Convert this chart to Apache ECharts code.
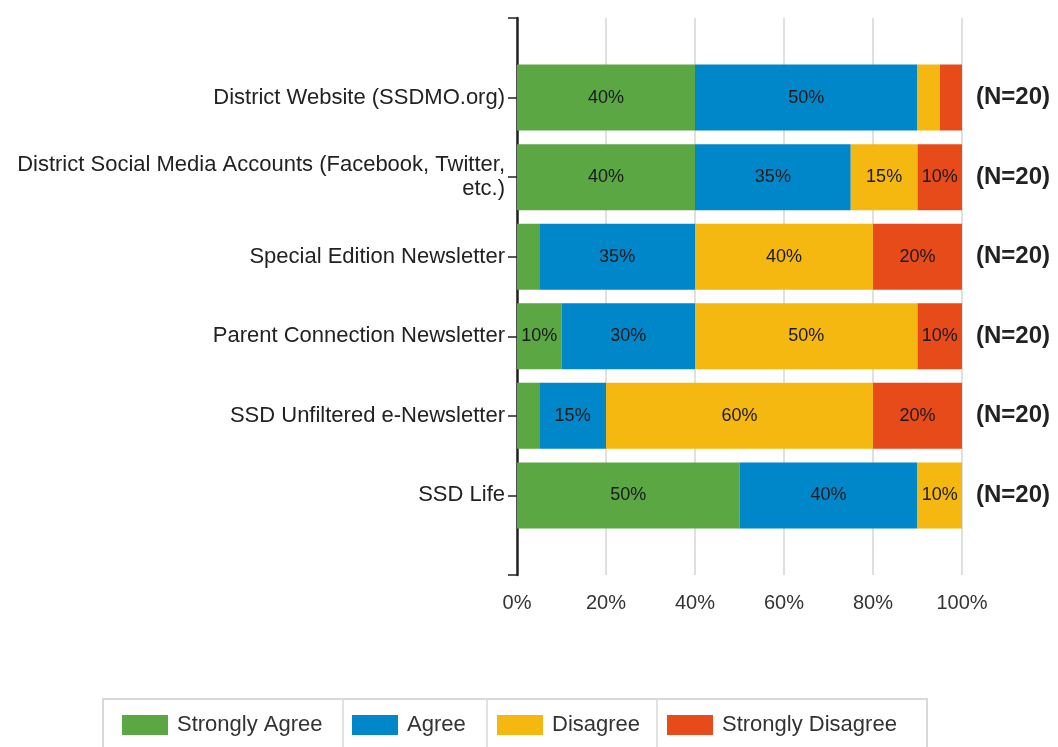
<!DOCTYPE html>
<html>
<head>
<meta charset="utf-8">
<script src="https://cdn.jsdelivr.net/npm/echarts@6/dist/echarts.min.js"></script>
<style>
  html, body { margin: 0; padding: 0; background: #fff; }
  #chart { width: 1058px; height: 747px; }
</style>
</head>
<body>
<div id="chart"></div>
<script>
// channels, top to bottom
var categories = [
    "District Website (SSDMO.org)",
    "District Social Media Accounts (Facebook, Twitter,\netc.)",
    "Special Edition Newsletter",
    "Parent Connection Newsletter",
    "SSD Unfiltered e-Newsletter",
    "SSD Life"
];
var nLabels = ["(N=20)", "(N=20)", "(N=20)", "(N=20)", "(N=20)", "(N=20)"];

var stronglyAgree = [40, 40, 5, 10, 5, 50];
var agree = [50, 35, 35, 30, 15, 40];
var disagree = [5, 15, 40, 50, 60, 10];
var stronglyDisagree = [5, 10, 20, 10, 20, 0];

var seriesNames = ["Strongly Agree", "Agree", "Disagree", "Strongly Disagree"];
var seriesColors = ["#5aa744", "#0087c9", "#f4b810", "#e84b1a"];
var xTicks = [0, 20, 40, 60, 80, 100];

// pad an empty slot above and below, the axis runs past the bars
function padded(arr) {
    return [null].concat(arr, [null]);
}

var chart = echarts.init(document.getElementById("chart"));

var allValues = [stronglyAgree, agree, disagree, stronglyDisagree];
var series = [];
for (var i = 0; i < allValues.length; i++) {
    series.push({
        name: seriesNames[i],
        type: "bar",
        stack: "total",
        barWidth: 66,
        itemStyle: { color: seriesColors[i] },
        label: {
            show: true,
            position: "inside",
            color: "#1a1a1a",
            fontSize: 18,
            fontFamily: "Liberation Sans",
            formatter: function (p) {
                return p.value >= 10 ? p.value + "%" : "";
            }
        },
        data: padded(allValues[i])
    });
}

// one legend per item so each sits in its own box
var legendLefts = [122, 352, 497, 667];
var legends = [];
for (var j = 0; j < seriesNames.length; j++) {
    legends.push({
        data: [seriesNames[j]],
        left: legendLefts[j],
        top: 714,
        padding: 0,
        itemWidth: 46,
        itemHeight: 20,
        icon: "rect",
        selectedMode: false,
        textStyle: {
            fontSize: 22,
            fontFamily: "Liberation Sans",
            color: "#333",
            padding: [0, 0, 0, 4]
        }
    });
}

chart.setOption({
    animation: false,
    grid: { left: 517, right: 96, top: 18, bottom: 172 },
    legend: legends,
    xAxis: {
        type: "value",
        min: 0,
        max: 100,
        interval: 20,
        axisLine: { show: false },
        axisTick: { show: false },
        splitLine: { lineStyle: { color: "#d6d6d6", width: 1.5 } },
        axisLabel: {
            margin: 18,
            fontSize: 20,
            fontFamily: "Liberation Sans",
            color: "#333",
            formatter: function (v) {
                return xTicks.indexOf(v) >= 0 ? v + "%" : "";
            }
        }
    },
    yAxis: [{
        type: "category",
        inverse: true,
        boundaryGap: false,
        data: padded(categories).map(function (c) { return c === null ? "" : c; }),
        axisLine: { lineStyle: { color: "#222", width: 2.5 } },
        axisTick: { length: 9, lineStyle: { color: "#222", width: 1.5 } },
        axisLabel: {
            margin: 12,
            fontSize: 22,
            fontFamily: "Liberation Sans",
            color: "#222",
            align: "right",
            lineHeight: 24
        }
    }, {
        type: "category",
        inverse: true,
        boundaryGap: false,
        position: "right",
        data: padded(nLabels).map(function (c) { return c === null ? "" : c; }),
        axisLine: { show: false },
        axisTick: { show: false },
        axisLabel: {
            margin: 14,
            fontSize: 24,
            fontWeight: "bold",
            fontFamily: "Liberation Sans",
            color: "#222"
        }
    }],
    graphic: [
        { type: "rect", shape: { x: 103, y: 699, width: 824, height: 60 },
          style: { fill: "none", stroke: "#d9d9d9", lineWidth: 2 } },
        { type: "line", shape: { x1: 343, y1: 699, x2: 343, y2: 747 },
          style: { stroke: "#d9d9d9", lineWidth: 1.5 } },
        { type: "line", shape: { x1: 487, y1: 699, x2: 487, y2: 747 },
          style: { stroke: "#d9d9d9", lineWidth: 1.5 } },
        { type: "line", shape: { x1: 657, y1: 699, x2: 657, y2: 747 },
          style: { stroke: "#d9d9d9", lineWidth: 1.5 } }
    ],
    series: series
});
</script>
</body>
</html>
